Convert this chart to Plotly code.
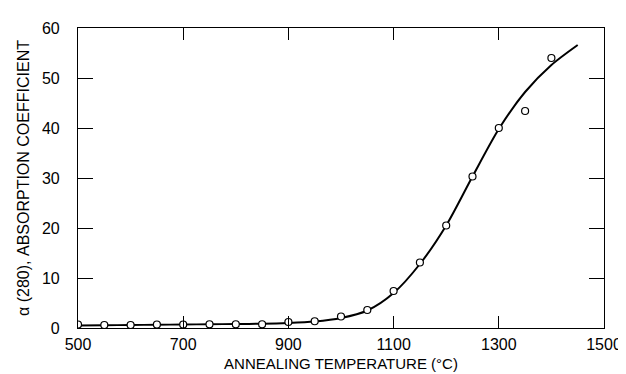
import plotly.graph_objects as go

temp_pts = [500, 550, 600, 650, 700, 750, 800, 850, 900, 950, 1000, 1050,
            1100, 1150, 1200, 1250, 1300, 1350, 1400]
alpha_pts = [0.7, 0.6, 0.6, 0.7, 0.7, 0.75, 0.75, 0.75, 1.2, 1.35, 2.3, 3.6,
             7.4, 13.1, 20.5, 30.3, 40.0, 43.4, 54.0]

temp_fit = [500, 550, 600, 650, 700, 750, 800, 850, 900, 950, 1000, 1050,
            1100, 1150, 1200, 1250, 1300, 1350, 1400, 1450]
alpha_fit = [0.5, 0.55, 0.6, 0.65, 0.7, 0.75, 0.8, 0.85, 1.0, 1.3, 2.0, 3.5,
             7.0, 12.8, 20.5, 30.3, 39.8, 47.2, 52.6, 56.6]

x_ticks = [500, 700, 900, 1100, 1300, 1500]
y_ticks = [0, 10, 20, 30, 40, 50, 60]

fig = go.Figure()
fig.add_trace(go.Scatter(x=temp_fit, y=alpha_fit, mode="lines",
                         line=dict(color="black", width=2, shape="spline", smoothing=0.8),
                         showlegend=False, hoverinfo="skip"))
fig.add_trace(go.Scatter(x=temp_pts, y=alpha_pts, mode="markers",
                         marker=dict(symbol="circle", size=7, color="white",
                                     line=dict(color="black", width=1.2)),
                         showlegend=False))

font = "Liberation Sans, Arial, sans-serif"
fig.update_layout(
    width=626, height=374,
    margin=dict(l=70, r=25, t=19, b=50),
    paper_bgcolor="white", plot_bgcolor="white",
    font=dict(family=font, color="black", size=15),
    xaxis=dict(range=[500, 1500], tickvals=x_ticks, ticks="inside", ticklen=12,
               tickwidth=1.2, tickcolor="black", showline=True, linecolor="black",
               linewidth=1.2, mirror="ticks", showgrid=False, zeroline=False,
               tickfont=dict(size=16), ticklabelstandoff=2,
               title=dict(text="ANNEALING TEMPERATURE (°C)", font=dict(size=15), standoff=6)),
    yaxis=dict(range=[0, 60], tickvals=y_ticks, ticks="inside", ticklen=15,
               tickwidth=1.2, tickcolor="black", showline=True, linecolor="black",
               linewidth=1.2, mirror="ticks", showgrid=False, zeroline=False,
               tickfont=dict(size=16), ticklabelstandoff=14,
               title=dict(text="α (280), ABSORPTION COEFFICIENT", font=dict(size=16), standoff=8)),
)
fig.write_html("out.html")
